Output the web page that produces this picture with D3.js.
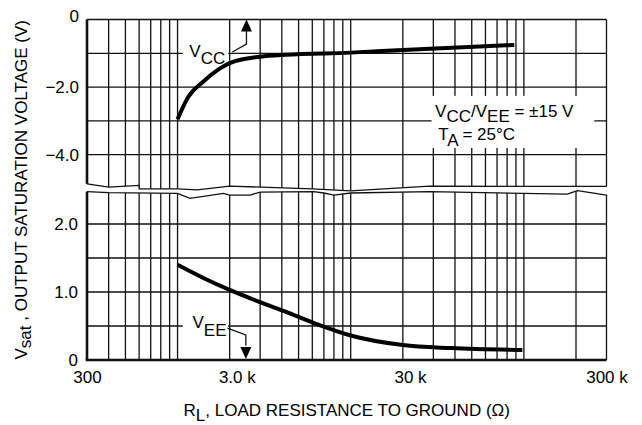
<!DOCTYPE html>
<html><head><meta charset="utf-8">
<script src="https://cdn.jsdelivr.net/npm/d3@7"></script>
<style>
body{margin:0;background:#fff}
svg text{font-family:"Liberation Sans",Arial,Helvetica,sans-serif;font-size:17px;fill:#000;white-space:pre}
</style>
</head><body><svg id="c" width="642" height="425"></svg>
<script>
// ---- data ----
const xDomain=[300,300000];
const xTickValues=[300,2200,22000,300000];
const xTickLabels=["300","3.0 k","30 k","300 k"];
const upperDomain=[0,-5];
const upperTickValues=[0,-2,-4];
const upperTickLabels=["0","\u22122.0","\u22124.0"];
const upperGrid=[-1,-2,-3,-4];
const lowerDomain=[0,2.5];
const lowerTickValues=[0,1,2];
const lowerTickLabels=["0","1.0","2.0"];
const lowerGrid=[0.5,1,1.5,2];
const vccR=[1000,1150,1400,1700,2000,3000,4200,10000,20000,88000];
const vccV=[-2.95,-2.3,-1.85,-1.5,-1.29,-1.10,-1.04,-0.98,-0.90,-0.755];
const veeR=[1000,1400,2000,3000,4200,6500,10000,20000,38000,98000];
const veeV=[1.40,1.21,1.03,0.85,0.71,0.52,0.36,0.22,0.175,0.147];
const upperBreakR=[300,400,600,600,1000,1300,2000,6000,10000,28600,300000];
const upperBreakV=[-4.86,-4.96,-4.91,-5.01,-5.01,-5.04,-4.93,-5.01,-5.07,-4.93,-4.94];
const lowerBreakR=[300,400,1000,1180,1840,2000,2630,3000,6100,7000,8000,10000,28700,178000,204000,300000];
const lowerBreakV=[2.475,2.46,2.45,2.378,2.45,2.426,2.426,2.47,2.475,2.456,2.426,2.456,2.475,2.44,2.49,2.426];

// ---- scales ----
const svg=d3.select("#c");
const x=d3.scaleLog().domain(xDomain).range([87,606.5]);
const yU=d3.scaleLinear().domain(upperDomain).range([19.5,188.5]);
const yL=d3.scaleLinear().domain(lowerDomain).range([360,190]);
const X0=x.range()[0], X1=x.range()[1], TOP=yU(0), BOT=yL(0);
const ub=upperBreakR.map((r,i)=>[x(r),yU(upperBreakV[i])]);
const lb=lowerBreakR.map((r,i)=>[x(r),yL(lowerBreakV[i])]);
const INK="#111";

const defs=svg.append("defs");
const upPoly=[[X0-5,TOP-5],[X1+5,TOP-5],[X1+5,ub[ub.length-1][1]],...ub.slice().reverse(),[X0-5,ub[0][1]]];
const loPoly=[[X0-5,lb[0][1]],...lb,[X1+5,lb[lb.length-1][1]],[X1+5,BOT+5],[X0-5,BOT+5]];
defs.append("clipPath").attr("id","cu").append("path").attr("d","M"+upPoly.join("L")+"Z");
defs.append("clipPath").attr("id","cl").append("path").attr("d","M"+loPoly.join("L")+"Z");

const xGrid=x.ticks();

function panel(clip,yS,grid,isUpper){
  const g=svg.append("g").attr("clip-path",`url(#${clip})`);
  g.selectAll("line.v").data(xGrid).join("line")
    .attr("x1",d=>x(d)).attr("x2",d=>x(d)).attr("y1",TOP).attr("y2",BOT)
    .attr("stroke",INK).attr("stroke-width",1.3);
  g.selectAll("line.h").data(grid).join("line")
    .attr("x1",X0).attr("x2",X1).attr("y1",d=>yS(d)).attr("y2",d=>yS(d))
    .attr("stroke",INK).attr("stroke-width",1.3);
  g.append("line").attr("x1",X0).attr("x2",X0).attr("y1",TOP).attr("y2",BOT)
    .attr("stroke",INK).attr("stroke-width",2.6);
  if(isUpper){
    g.append("line").attr("x1",X0).attr("x2",X1).attr("y1",TOP).attr("y2",TOP)
      .attr("stroke",INK).attr("stroke-width",1.6);
  } else {
    g.append("line").attr("x1",X0-1.3).attr("x2",X1).attr("y1",BOT).attr("y2",BOT)
      .attr("stroke",INK).attr("stroke-width",2.6);
  }
}
panel("cu",yU,upperGrid,true);
panel("cl",yL,lowerGrid,false);

// break lines
svg.append("path").attr("d",d3.line()(ub)).attr("fill","none").attr("stroke",INK).attr("stroke-width",1.3);
svg.append("path").attr("d",d3.line()(lb)).attr("fill","none").attr("stroke",INK).attr("stroke-width",1.3);

// white label backgrounds
function box(r0,r1,ys,v0,v1){
  svg.append("rect").attr("x",x(r0)).attr("width",x(r1)-x(r0))
    .attr("y",Math.min(ys(v0),ys(v1))).attr("height",Math.abs(ys(v1)-ys(v0))).attr("fill","#fff");
}
box(1070,1960,yU,-0.67,-1.32);
box(1070,1960,yL,0.66,0.28);
box(29300,255000,yU,-2.26,-3.80);

// curves
const line=d3.line().curve(d3.curveMonotoneX);
svg.append("path").attr("d",line(vccR.map((r,i)=>[x(r),yU(vccV[i])])))
  .attr("fill","none").attr("stroke","#000").attr("stroke-width",4);
svg.append("path").attr("d",line(veeR.map((r,i)=>[x(r),yL(veeV[i])])))
  .attr("fill","none").attr("stroke","#000").attr("stroke-width",4);

// axes
const axU=svg.append("g").attr("transform",`translate(${X0},0)`)
  .call(d3.axisLeft(yU).tickValues(upperTickValues).tickFormat((d,i)=>upperTickLabels[i]).tickSize(0).tickPadding(8));
axU.select(".domain").remove();
axU.selectAll(".tick text").filter(d=>d===0).attr("y",-3.5);
const axL=svg.append("g").attr("transform",`translate(${X0},0)`)
  .call(d3.axisLeft(yL).tickValues(lowerTickValues).tickFormat((d,i)=>lowerTickLabels[i]).tickSize(0).tickPadding(9));
axL.select(".domain").remove();
const axX=svg.append("g").attr("transform",`translate(0,${BOT})`)
  .call(d3.axisBottom(x).tickValues(xTickValues).tickFormat((d,i)=>xTickLabels[i]).tickSize(0).tickPadding(11));
axX.select(".domain").remove();

// text helper with subscripts
function rich(g,parts){
  const t=g.append("text");
  let cur=0;
  parts.forEach(p=>{
    const s=p[1]||0;
    t.append("tspan").attr("dy",s-cur).text(p[0]);
    cur=s;
  });
  return t;
}
// annotations
rich(svg.append("g").attr("transform",`translate(${x(1170)},${yU(-1.11)})`),[["V"],["CC",6.5]]);
rich(svg.append("g").attr("transform",`translate(${x(1220)},${yL(0.47)})`),[["V"],["EE",8]]);
rich(svg.append("g").attr("transform",`translate(${x(30700)},${yU(-2.88)})`),[["V"],["CC",5],["/V"],["EE",5],[" = \u00B115 V"]]);
rich(svg.append("g").attr("transform",`translate(${x(32000)},${yU(-3.56)})`),[["T"],["A",6],[" = 25\u00B0C"]]);

// arrows
function arrow(pts,ys,tip,dir){
  svg.append("path").attr("d",d3.line()(pts.map(p=>[x(p[0]),ys(p[1])])))
    .attr("fill","none").attr("stroke",INK).attr("stroke-width",1.3);
  const last=pts[pts.length-1];
  const ax=x(last[0]), ty=ys(tip), by=ty+dir*12;
  svg.append("path").attr("d",`M${ax},${ty}L${ax-5.5},${by}L${ax+5.5},${by}Z`).attr("fill","#000");
}
arrow([[2070,-0.96],[2500,-0.725],[2500,-0.3]],yU,0,1);
arrow([[1940,0.47],[2480,0.37],[2480,0.21]],yL,0.015,-1);

// axis titles
rich(svg.append("g").attr("transform",`translate(27,${(TOP+BOT)/2}) rotate(-90)`),[["V"],["sat",4],[" , OUTPUT SATURATION VOLTAGE (V)"]])
  .attr("text-anchor","middle");
rich(svg.append("g").attr("transform",`translate(${(X0+X1)/2},416)`),[["R"],["L",5],[", LOAD RESISTANCE TO GROUND (\u03A9)"]])
  .attr("text-anchor","middle");
</script></body></html>
